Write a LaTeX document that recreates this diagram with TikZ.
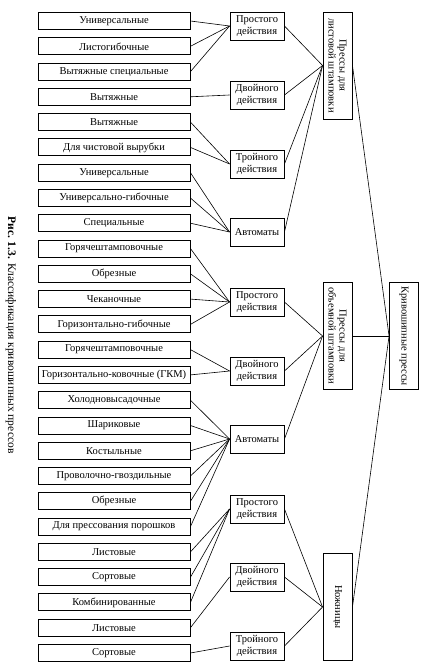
\documentclass[tikz,border=0pt]{standalone}
\usepackage{fontspec}
\setmainfont{Liberation Serif}
\tikzset{
  kindbox/.style={draw,line width=0.9pt,minimum width=152pt,minimum height=17pt,inner sep=0pt,font=\fontsize{10.5}{12}\selectfont},
  actbox/.style={draw,line width=0.9pt,minimum width=54pt,minimum height=28pt,inner sep=0pt,align=center,font=\fontsize{10.5}{11.5}\selectfont},
  groupbox/.style={draw,line width=0.9pt,rotate=-90,minimum width=107pt,minimum height=29pt,inner sep=0pt,align=center,font=\fontsize{10.5}{11}\selectfont},
  link/.style={line width=0.6pt}
}
\begin{document}
\begin{tikzpicture}[x=1pt,y=-1pt]
\useasboundingbox (0,0) rectangle (428,671);
\node(caption) at (11,335) [rotate=-90,font=\fontsize{11.5}{13}\selectfont] {\textbf{Рис. 1.3.} Классификация кривошипных прессов};
%
\node[kindbox](univA) at (114,21) {Универсальные};
\node[kindbox](listog) at (114,46.3) {Листогибочные};
\node[kindbox](vytspec) at (114,71.6) {Вытяжные специальные};
\node[kindbox](vytA) at (114,96.8) {Вытяжные};
\node[kindbox](vytB) at (114,122.1) {Вытяжные};
\node[kindbox](vyrub) at (114,147.4) {Для чистовой вырубки};
\node[kindbox](univB) at (114,172.7) {Универсальные};
\node[kindbox](univgib) at (114,198) {Универсально-гибочные};
\node[kindbox](spec) at (114,223.2) {Специальные};
%
\node[kindbox](gorA) at (114,248.5) {Горячештамповочные};
\node[kindbox](obrA) at (114,273.8) {Обрезные};
\node[kindbox](chek) at (114,299.1) {Чеканочные};
\node[kindbox](gorgib) at (114,324.4) {Горизонтально-гибочные};
\node[kindbox](gorB) at (114,349.6) {Горячештамповочные};
\node[kindbox](gkm) at (114,374.9) {Горизонтально-ковочные (ГКМ)};
\node[kindbox](holod) at (114,400.2) {Холодновысадочные};
\node[kindbox](shar) at (114,425.5) {Шариковые};
\node[kindbox](kost) at (114,450.8) {Костыльные};
\node[kindbox](gvozd) at (114,476) {Проволочно-гвоздильные};
\node[kindbox](obrB) at (114,501.3) {Обрезные};
\node[kindbox](porosh) at (114,526.6) {Для прессования порошков};
%
\node[kindbox](listA) at (114,551.9) {Листовые};
\node[kindbox](sortA) at (114,577.2) {Сортовые};
\node[kindbox](komb) at (114,602.4) {Комбинированные};
\node[kindbox](listB) at (114,627.7) {Листовые};
\node[kindbox](sortB) at (114,653) {Сортовые};
%
\node[actbox](prostA) at (257,26) {Простого\\действия};
\node[actbox](dvojA) at (257,95) {Двойного\\действия};
\node[actbox](trojA) at (257,164) {Тройного\\действия};
\node[actbox](avtA) at (257,232) {Автоматы};
\draw[link](univA.east) -- (prostA.west);
\draw[link](listog.east) -- (prostA.west);
\draw[link](vytspec.east) -- (prostA.west);
\draw[link](vytA.east) -- (dvojA.west);
\draw[link](vytB.east) -- (trojA.west);
\draw[link](vyrub.east) -- (trojA.west);
\draw[link](univB.east) -- (avtA.west);
\draw[link](univgib.east) -- (avtA.west);
\draw[link](spec.east) -- (avtA.west);
%
\node[actbox](prostB) at (257,302) {Простого\\действия};
\node[actbox](dvojB) at (257,371) {Двойного\\действия};
\node[actbox](avtB) at (257,439) {Автоматы};
\draw[link](gorA.east) -- (prostB.west);
\draw[link](obrA.east) -- (prostB.west);
\draw[link](chek.east) -- (prostB.west);
\draw[link](gorgib.east) -- (prostB.west);
\draw[link](gorB.east) -- (dvojB.west);
\draw[link](gkm.east) -- (dvojB.west);
\draw[link](holod.east) -- (avtB.west);
\draw[link](shar.east) -- (avtB.west);
\draw[link](kost.east) -- (avtB.west);
\draw[link](gvozd.east) -- (avtB.west);
\draw[link](obrB.east) -- (avtB.west);
\draw[link](porosh.east) -- (avtB.west);
%
\node[actbox](prostC) at (257,509) {Простого\\действия};
\node[actbox](dvojC) at (257,577) {Двойного\\действия};
\node[actbox](trojC) at (257,646) {Тройного\\действия};
\draw[link](listA.east) -- (prostC.west);
\draw[link](sortA.east) -- (prostC.west);
\draw[link](komb.east) -- (prostC.west);
\draw[link](listB.east) -- (dvojC.west);
\draw[link](sortB.east) -- (trojC.west);
%
\node[groupbox](listov) at (337.5,65.5) {Прессы для\\листовой штамповки};
\draw[link](prostA.east) -- (listov.south);
\draw[link](dvojA.east) -- (listov.south);
\draw[link](trojA.east) -- (listov.south);
\draw[link](avtA.east) -- (listov.south);
%
\node[groupbox](objem) at (337.5,336) {Прессы для\\объемной штамповки};
\draw[link](prostB.east) -- (objem.south);
\draw[link](dvojB.east) -- (objem.south);
\draw[link](avtB.east) -- (objem.south);
%
\node[groupbox](nozh) at (337.5,607) {Ножницы};
\draw[link](prostC.east) -- (nozh.south);
\draw[link](dvojC.east) -- (nozh.south);
\draw[link](trojC.east) -- (nozh.south);
%
\node[groupbox](kriv) at (404,336) {Кривошипные прессы};
\draw[link](listov.north) -- (kriv.south);
\draw[link](objem.north) -- (kriv.south);
\draw[link](nozh.north) -- (kriv.south);
\end{tikzpicture}
\end{document}
